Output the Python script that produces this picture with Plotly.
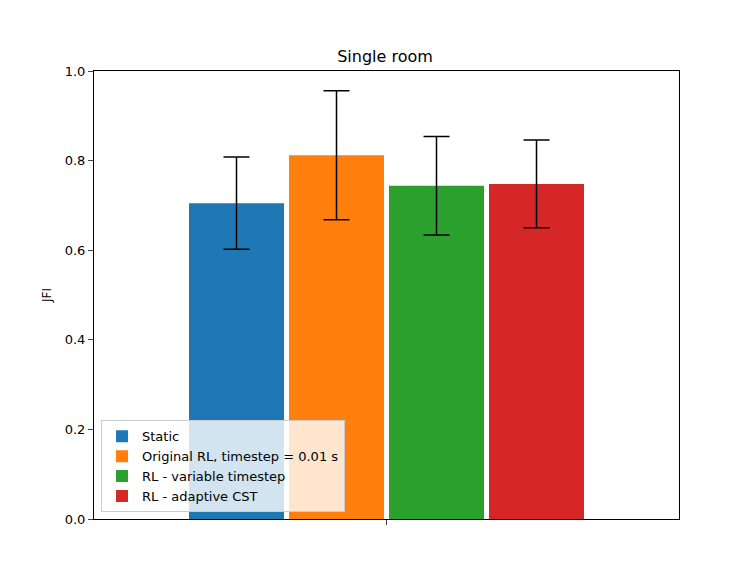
import plotly.graph_objects as go

names = ["Static", "Original RL, timestep = 0.01 s", "RL - variable timestep", "RL - adaptive CST"]
means = [0.705, 0.812, 0.744, 0.748]
errors = [0.103, 0.144, 0.110, 0.098]
colors = ["#1f77b4", "#ff7f0e", "#2ca02c", "#d62728"]
positions = [-1.5, -0.5, 0.5, 1.5]

fig = go.Figure()
for n, m, e, c, p in zip(names, means, errors, colors, positions):
    fig.add_trace(go.Bar(
        x=[p], y=[m], name=n, width=0.95, marker_color=c, marker_line_width=0,
        error_y=dict(type="data", array=[e], color="black", thickness=1.5, width=13),
    ))

fig.update_layout(
    width=754, height=583,
    margin=dict(l=86, r=83, t=63, b=72),
    plot_bgcolor="white", paper_bgcolor="white",
    font=dict(family="DejaVu Sans", size=13, color="black"),
    title=dict(text="Single room", x=0.5, xanchor="center", y=1 - 48 / 583, yanchor="middle",
               font=dict(size=16)),
    showlegend=True,
    legend=dict(x=0.012, y=0.015, xanchor="left", yanchor="bottom",
                bgcolor="rgba(255,255,255,0.8)", bordercolor="#cccccc", borderwidth=1,
                font=dict(size=13), tracegroupgap=0),
    barmode="overlay",
)
fig.update_xaxes(range=[-2.925, 2.925], tickvals=[0], ticktext=[""], ticks="outside",
                 ticklen=5, showgrid=False, showline=True, linecolor="black", mirror=True,
                 zeroline=False)
fig.update_yaxes(range=[0, 1.0], tickvals=[0, 0.2, 0.4, 0.6, 0.8, 1.0], tickformat=".1f",
                 ticks="outside", ticklen=5, showgrid=False, showline=True, linecolor="black",
                 mirror=True, zeroline=False,
                 title=dict(text="JFI", standoff=10, font=dict(size=12)))

fig.write_html("out.html")
